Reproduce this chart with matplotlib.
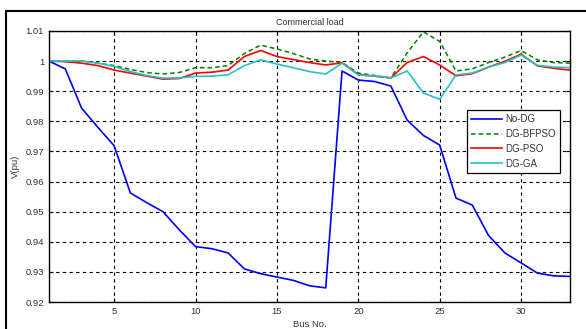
import matplotlib
matplotlib.use("Agg")
import matplotlib.pyplot as plt
from matplotlib.patches import Rectangle

plt.rcParams['font.family'] = ['Liberation Sans', 'DejaVu Sans']

bus = list(range(1, 34))

no_dg = [1.0, 0.9974, 0.9844, 0.978, 0.9719, 0.9562, 0.953, 0.950, 0.944, 0.9384,
         0.9377, 0.9363, 0.931, 0.9294, 0.9283, 0.9272, 0.9254, 0.9247, 0.9967, 0.9937,
         0.9932, 0.9917, 0.9804, 0.9753, 0.9721, 0.9545, 0.9522, 0.9421, 0.9363, 0.933,
         0.9296, 0.9287, 0.9285]

dg_bfpso = [1.0, 1.0, 1.0, 0.9993, 0.9985, 0.9972, 0.9962, 0.9957, 0.9962, 0.9978,
            0.9978, 0.9985, 1.0025, 1.0053, 1.0040, 1.0025, 1.0007, 1.0000, 0.9995, 0.9960,
            0.9952, 0.9944, 1.0027, 1.0097, 1.0065, 0.9967, 0.9974, 0.9995, 1.0013, 1.0035,
            1.0004, 0.9995, 0.9993]

dg_pso = [1.0, 0.9998, 0.9993, 0.9985, 0.9970, 0.9960, 0.9950, 0.9940, 0.9942, 0.9960,
          0.9963, 0.9970, 1.0015, 1.0035, 1.0015, 1.0005, 0.9995, 0.9987, 0.9994, 0.9955,
          0.9950, 0.9944, 0.9995, 1.0015, 0.9987, 0.9951, 0.9958, 0.9980, 0.9999, 1.0023,
          0.9984, 0.9976, 0.9970]

dg_ga = [1.0, 1.0, 1.0, 0.9993, 0.9982, 0.9965, 0.9952, 0.9943, 0.9944, 0.9949,
         0.9950, 0.9954, 0.9985, 1.0004, 0.9990, 0.9978, 0.9965, 0.9957, 0.9993, 0.9954,
         0.9950, 0.9944, 0.9967, 0.9894, 0.9873, 0.9954, 0.9960, 0.9980, 0.9995, 1.0020,
         0.9986, 0.9980, 0.9978]

xticks = [5, 10, 15, 20, 25, 30]
yticks = [0.92, 0.93, 0.94, 0.95, 0.96, 0.97, 0.98, 0.99, 1.0, 1.01]
ytick_labels = ["0.92", "0.93", "0.94", "0.95", "0.96", "0.97", "0.98", "0.99", "1", "1.01"]

fig = plt.figure(figsize=(5.86, 3.29), dpi=100)
ax = fig.add_axes([0.0836, 0.082, 0.889, 0.824])

ax.plot(bus, no_dg, color="#0000ff", lw=1.2, label="No-DG")
ax.plot(bus, dg_bfpso, color="#008000", lw=1.1, ls=(0, (3, 2)), label="DG-BFPSO")
ax.plot(bus, dg_pso, color="#ff0000", lw=1.2, label="DG-PSO")
ax.plot(bus, dg_ga, color="#22c4c4", lw=1.2, label="DG-GA")

ax.set_xlim(1, 33)
ax.set_ylim(0.92, 1.01)
ax.set_xticks(xticks)
ax.set_yticks(yticks)
ax.set_yticklabels(ytick_labels)
ax.grid(True, color="black", ls=(0, (3, 3)), lw=0.8)
ax.tick_params(direction="in", top=True, right=True, labelsize=6.8,
               labelcolor="#333333", length=3)
for s in ax.spines.values():
    s.set_linewidth(1.0)

ax.set_title("Commercial load", fontsize=6.5, color="#333333", pad=4)
ax.set_xlabel("Bus No.", fontsize=6.8, color="#333333", labelpad=3)
ax.set_ylabel("V(pu)", fontsize=6.8, color="#333333", labelpad=4)

leg = ax.legend(loc="upper left", bbox_to_anchor=(0.793, 0.727), fontsize=7,
                frameon=True, fancybox=False, edgecolor="black", framealpha=1,
                handlelength=3.2, borderpad=0.45, labelspacing=0.5, handletextpad=0.3)
leg.get_frame().set_linewidth(0.9)
for t in leg.get_texts():
    t.set_color("#333333")

fig.patches.append(Rectangle((6 / 586, -0.1), 1.1, 1 - 11 / 329 + 0.1,
                             transform=fig.transFigure, fill=False,
                             edgecolor="black", lw=1.5))

fig.savefig("out.png", dpi=100)
